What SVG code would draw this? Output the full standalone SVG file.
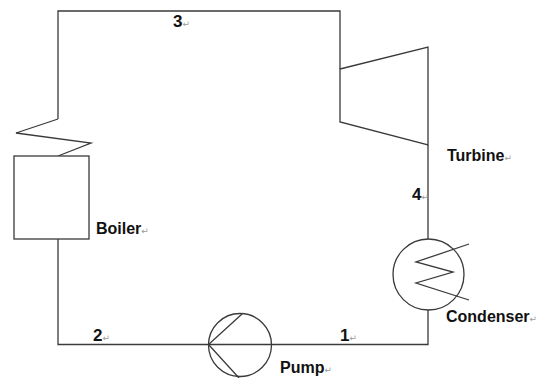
<svg xmlns="http://www.w3.org/2000/svg" width="543" height="378" viewBox="0 0 543 378">
<style>
.ln{fill:none;stroke:#3a3a3a;stroke-width:1.3;stroke-linejoin:miter}
.sh{fill:#fff;stroke:#3a3a3a;stroke-width:1.3}
.lb{font-family:"Liberation Sans",Arial,sans-serif;font-weight:bold;font-size:16px;fill:#111}
.num{font-family:"Liberation Sans",Arial,sans-serif;font-weight:bold;font-size:17px;fill:#111}
.rm{font-family:"DejaVu Sans",sans-serif;font-weight:normal;font-size:9px;fill:#9a9a9a}
</style>
<rect width="543" height="378" fill="#fff"/>
<g id="connectors">
<path class="ln" d="M58,119 V11 H340 V69"/>
<path class="ln" d="M428,145 V239"/>
<path class="ln" d="M428,310 V344.5 H58 V239"/>
</g>
<g id="boiler">
<polyline class="ln" points="58,119 16,133 91,143 58,156"/>
<rect class="sh" x="14" y="156" width="75" height="83"/>
<text class="lb" x="96" y="234">Boiler<tspan class="rm">↵</tspan></text>
</g>
<g id="turbine">
<polygon class="sh" points="340,69 428,47 428,145 340,122"/>
<text class="lb" x="447" y="161">Turbine<tspan class="rm">↵</tspan></text>
</g>
<g id="condenser">
<circle class="ln" cx="428.5" cy="274.5" r="35.5"/>
<polyline class="ln" points="469,244 416,262 453,272 416,283 469,300"/>
<text class="lb" x="446" y="322">Condenser<tspan class="rm">↵</tspan></text>
</g>
<g id="pump">
<circle class="ln" cx="240" cy="345" r="31.5"/>
<polyline class="ln" points="242,314 208.5,344.5 239,378"/>
<text class="lb" x="280" y="373">Pump<tspan class="rm">↵</tspan></text>
</g>
<g id="states">
<text class="num" x="173" y="27">3<tspan class="rm">↵</tspan></text>
<text class="num" x="412" y="200">4<tspan class="rm">↵</tspan></text>
<text class="num" x="93" y="341">2<tspan class="rm">↵</tspan></text>
<text class="num" x="340" y="341">1<tspan class="rm">↵</tspan></text>
</g>
</svg>
